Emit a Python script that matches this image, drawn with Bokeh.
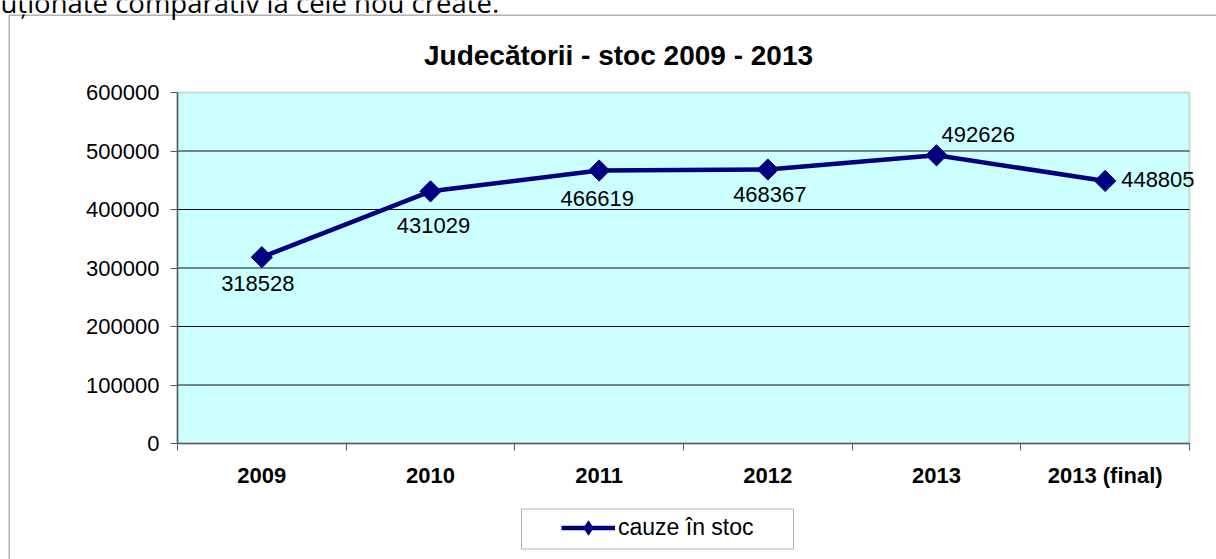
import math
from bokeh.plotting import figure
from bokeh.models import (Range1d, FixedTicker, Legend, LegendItem, LabelSet, Label,
                          BoxAnnotation, ColumnDataSource, BasicTickFormatter)
from bokeh.core.properties import value
from bokeh.embed import file_html
from bokeh.resources import INLINE

# ---------------- data ----------------
categories = ["2009", "2010", "2011", "2012", "2013", "2013 (final)"]
stoc = [318528, 431029, 466619, 468367, 492626, 448805]
y_ticks = [0, 100000, 200000, 300000, 400000, 500000, 600000]
series_name = "cauze în stoc"
title_text = "Judecătorii - stoc 2009 - 2013"
top_text = "uționate comparativ la cele nou create."

# ---------------- styles / layout (pixels) ----------------
label_dx = [-4, 3, -2, 2, 5, 16]
label_dy = [-26, -34, -28, -25, 21, 1]
label_align = ["center", "center", "center", "center", "left", "left"]
NAVY = "#000080"
FONT = "Liberation Sans"
W, H = 1216, 559
PL, PR, PT, PB = 177, 1189, 92, 443   # plot-area edges on the page

n = len(categories)
ymax = y_ticks[-1]
xu = (PR - PL) / n
yu = (PB - PT) / ymax


def X(px):
    return (px - PL) / xu


def Y(py):
    return (PB - py) / yu


xs = [i + 0.5 for i in range(n)]

p = figure(width=W, height=H, x_range=Range1d(X(0), X(W)), y_range=Range1d(Y(H), Y(0)),
           output_backend="svg", toolbar_location=None, title=None, min_border=0)
p.outline_line_color = None
p.background_fill_color = "white"
p.border_fill_color = "white"
p.grid.visible = False

# plot area
p.add_layout(BoxAnnotation(left=0, right=n, bottom=0, top=ymax, fill_color="#CCFFFF",
                           fill_alpha=1, line_color="#808080", line_width=2, level="underlay"))

# grid lines
gt = [t for t in y_ticks if 0 < t < ymax]
p.segment(x0=[0] * len(gt), y0=gt, x1=[n] * len(gt), y1=gt, line_color="#111111", line_width=1)

# x axis
xa = p.xaxis[0]
xa.fixed_location = 0
xa.bounds = (0, n)
xa.ticker = FixedTicker(ticks=xs, minor_ticks=list(range(n + 1)))
xa.major_label_overrides = {x: c for x, c in zip(xs, categories)}
xa.major_tick_out = 0
xa.major_tick_in = 0
xa.minor_tick_out = 7
xa.minor_tick_in = 0
xa.minor_tick_line_color = "#595959"
xa.axis_line_color = "#595959"
xa.axis_line_width = 1.5
xa.major_label_standoff = 12
xa.major_label_text_font = FONT
xa.major_label_text_font_style = "bold"
xa.major_label_text_font_size = "22px"
xa.major_label_text_color = "black"

# y axis
ya = p.yaxis[0]
ya.fixed_location = 0
ya.bounds = (0, ymax)
ya.ticker = FixedTicker(ticks=y_ticks)
ya.formatter = BasicTickFormatter(use_scientific=False)
ya.major_tick_out = 7
ya.major_tick_in = 0
ya.minor_tick_out = 0
ya.minor_tick_in = 0
ya.major_tick_line_color = "#595959"
ya.axis_line_color = "#595959"
ya.axis_line_width = 1.5
ya.major_label_standoff = 11
ya.major_label_text_font = FONT
ya.major_label_text_font_size = "22px"
ya.major_label_text_color = "black"

src = ColumnDataSource(dict(x=xs, y=stoc, txt=[str(v) for v in stoc],
                            dx=label_dx, dy=label_dy, al=label_align))

ln = p.line("x", "y", source=src, line_color=NAVY, line_width=4.5)
sc = p.scatter("x", "y", source=src, marker="square", size=15, angle=math.pi / 4,
               fill_color=NAVY, line_color=NAVY)
# zero-size diamond renderer: only its legend swatch is visible
leg_marker = p.scatter("x", "y", source=src, marker="diamond", size=0,
                       fill_color=NAVY, line_color=NAVY, line_width=0.5)

labels = LabelSet(x="x", y="y", text="txt", source=src, x_offset="dx", y_offset="dy",
                  text_align="al", text_baseline="middle",
                  text_font=value(FONT), text_font_size="22px", text_color="black")
p.add_layout(labels)

# title and the (cut off) text above the chart
p.add_layout(Label(x=X(618), y=Y(54.5), text=title_text,
                   text_align="center", text_baseline="middle", text_font=FONT,
                   text_font_style="bold", text_font_size="28px", text_color="black"))
p.add_layout(Label(x=X(0), y=Y(2), text=top_text,
                   text_align="left", text_baseline="middle", text_font="Open Sans",
                   text_font_size="27.5px", text_color="black"))

# outer chart border
p.add_layout(BoxAnnotation(left=X(8.75), right=X(1500), top=Y(14.75), bottom=Y(900),
                           fill_alpha=0, line_color="black", line_width=1.5))
# legend border
p.add_layout(BoxAnnotation(left=X(521), right=X(793), top=Y(508.5), bottom=Y(548.5),
                           fill_alpha=0, line_color="black", line_width=1))

legend = Legend(items=[LegendItem(label=series_name, renderers=[ln, leg_marker])],
                location=(561, H - 527 - 18.5), border_line_color=None, background_fill_alpha=0,
                padding=0, margin=0, spacing=0, glyph_width=54, glyph_height=37,
                label_height=37, label_standoff=3, label_text_font=FONT,
                label_text_font_size="23px", label_text_color="black")
p.add_layout(legend, "center")

open("out.html", "w").write(file_html(p, INLINE))
